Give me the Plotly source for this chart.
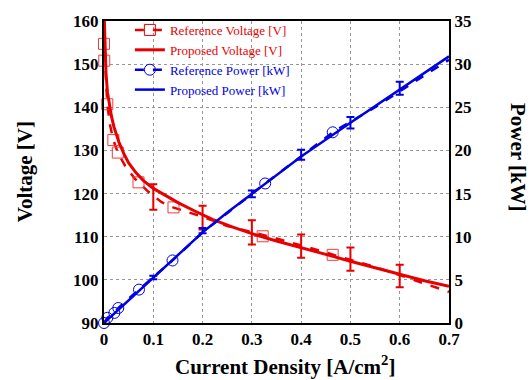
import plotly.graph_objects as go

RED = "rgb(232,0,0)"
BLUE = "rgb(0,0,225)"

# Proposed voltage (solid)
pv_x = [0.0004, 0.001, 0.002, 0.004, 0.007, 0.01, 0.015, 0.02, 0.03, 0.04, 0.05, 0.065, 0.08,
        0.1, 0.12, 0.15, 0.185, 0.22, 0.26, 0.3, 0.35, 0.4, 0.45, 0.5, 0.55, 0.6, 0.65, 0.7]
pv_y = [161, 158.5, 153.5, 148, 143.5, 141, 138, 135.5, 132, 129.3, 127.1, 124.8, 123.0,
        121.2, 119.8, 117.9, 115.9, 114.0, 112.3, 110.7, 109.0, 107.5, 105.9, 104.3, 102.8, 101.2, 99.8, 98.5]

# Reference voltage (dashed line)
rv_x = [0.0004, 0.002, 0.004, 0.007, 0.012, 0.019, 0.028, 0.043, 0.063, 0.09, 0.117, 0.14,
        0.2, 0.25, 0.33, 0.4, 0.465, 0.55, 0.6, 0.65, 0.7]
rv_y = [161, 152, 146, 140.5, 136, 132.4, 129.5, 126.4, 123.4, 120.4, 118, 116.8,
        114.6, 112.5, 110.2, 108, 105.9, 103, 101.1, 99.1, 97.2]

# Reference voltage markers (squares)
rvm_x = [0.0, 0.0005, 0.0067, 0.019, 0.028, 0.07, 0.141, 0.322, 0.464]
rvm_y = [154.7, 150.8, 140.7, 132.4, 129.5, 122.6, 116.8, 110.1, 105.8]

# Voltage error bars
ve_x = [0.1, 0.2, 0.3, 0.4, 0.5, 0.6]
ve_y = [119.2, 114.4, 111.0, 107.8, 104.8, 100.9]
ve_e = [2.95, 2.75, 2.8, 2.7, 2.7, 2.6]

# Proposed power (solid)
pp_x = [0, 0.05, 0.1, 0.157, 0.2, 0.25, 0.3, 0.4, 0.5, 0.6, 0.7]
pp_y = [0, 2.65, 5.3, 8.3, 10.5, 12.8, 15.0, 19.3, 23.2, 27.1, 30.9]

# Reference power (dashed)
rp_x = [0, 0.007, 0.021, 0.029, 0.071, 0.139, 0.2, 0.327, 0.4, 0.464, 0.55, 0.6, 0.65, 0.7]
rp_y = [0, 0.6, 1.17, 1.74, 3.87, 7.25, 10.5, 16.17, 19.3, 22.1, 25.0, 26.9, 28.7, 30.5]

# Reference power markers (circles)
rpm_x = [0, 0.0067, 0.021, 0.029, 0.071, 0.139, 0.327, 0.464]
rpm_y = [0, 0.6, 1.17, 1.74, 3.87, 7.25, 16.17, 22.1]

# Power error bars
pe_x = [0.1, 0.2, 0.3, 0.4, 0.5, 0.6]
pe_y = [5.27, 10.7, 14.96, 19.5, 23.2, 27.2]
pe_e = [0.2, 0.3, 0.4, 0.57, 0.66, 0.76]

x_ticks = [0, 0.1, 0.2, 0.3, 0.4, 0.5, 0.6, 0.7]
x_labels = ["0", "0.1", "0.2", "0.3", "0.4", "0.5", "0.6", "0.7"]

fig = go.Figure()

def lg(text, color):
    return f"<span style='color:{color}'>{text}</span>"

# Power traces (y2)
fig.add_trace(go.Scatter(x=rp_x, y=rp_y, mode="lines", line=dict(color=BLUE, width=2.5, dash="dash"),
                         yaxis="y2", showlegend=False))
fig.add_trace(go.Scatter(x=rpm_x, y=rpm_y, mode="markers", cliponaxis=False,
                         marker=dict(symbol="circle-open", size=11, color=BLUE, line=dict(width=1)),
                         yaxis="y2", showlegend=False))
fig.add_trace(go.Scatter(x=pp_x, y=pp_y, mode="lines", line=dict(color=BLUE, width=2.5),
                         yaxis="y2", showlegend=False))
fig.add_trace(go.Scatter(x=pe_x, y=pe_y, mode="markers", marker=dict(size=1, color=BLUE, opacity=0),
                         error_y=dict(type="data", array=pe_e, color=BLUE, thickness=2, width=4),
                         yaxis="y2", showlegend=False))

# Voltage traces
fig.add_trace(go.Scatter(x=rv_x, y=rv_y, mode="lines", line=dict(color=RED, width=2.5, dash="dash"),
                         showlegend=False))
fig.add_trace(go.Scatter(x=rvm_x, y=rvm_y, mode="markers", cliponaxis=False,
                         marker=dict(symbol="square-open", size=11, color="rgb(240,60,60)", line=dict(width=1)),
                         showlegend=False))
fig.add_trace(go.Scatter(x=pv_x, y=pv_y, mode="lines", line=dict(color=RED, width=3),
                         showlegend=False))
fig.add_trace(go.Scatter(x=ve_x, y=ve_y, mode="markers", marker=dict(size=1, color=RED, opacity=0),
                         error_y=dict(type="data", array=ve_e, color=RED, thickness=2, width=4),
                         showlegend=False))

# Legend entries
fig.add_trace(go.Scatter(x=[None], y=[None], mode="lines+markers", name=lg("Reference Voltage [V]", RED),
                         line=dict(color=RED, width=2.5, dash="dash"),
                         marker=dict(symbol="square-open", size=11, color=RED, line=dict(width=1))))
fig.add_trace(go.Scatter(x=[None], y=[None], mode="lines", name=lg("Proposed Voltage [V]", RED),
                         line=dict(color=RED, width=3)))
fig.add_trace(go.Scatter(x=[None], y=[None], mode="lines+markers", name=lg("Reference Power [kW]", BLUE),
                         line=dict(color=BLUE, width=2.5, dash="dash"),
                         marker=dict(symbol="circle-open", size=11, color=BLUE, line=dict(width=1))))
fig.add_trace(go.Scatter(x=[None], y=[None], mode="lines", name=lg("Proposed Power [kW]", BLUE),
                         line=dict(color=BLUE, width=2.5)))

tickfont = dict(family="Liberation Serif", size=17, color="black", weight="bold")
grid = dict(showgrid=True, gridcolor="rgb(150,150,150)", gridwidth=1, griddash="dot")

fig.update_layout(
    width=532, height=380,
    margin=dict(l=104, r=83, t=16, b=57),
    paper_bgcolor="white", plot_bgcolor="white",
    font=dict(family="Liberation Serif", color="black"),
    xaxis=dict(range=[0, 0.7], tickvals=x_ticks, ticktext=x_labels, tickfont=tickfont,
               showline=True, linecolor="black", linewidth=2, mirror=True, ticks="",
               zeroline=False, **grid),
    yaxis=dict(range=[90, 160], dtick=10, tickfont=tickfont, showline=True, linecolor="black",
               linewidth=2, mirror=True, ticks="", zeroline=False, **grid),
    yaxis2=dict(range=[0, 35], dtick=5, overlaying="y", side="right", tickfont=tickfont,
                showline=True, linecolor="black", linewidth=2, ticks="", showgrid=False, zeroline=False),
    legend=dict(x=0.075, y=1.02, xanchor="left", yanchor="top", bgcolor="rgba(0,0,0,0)",
                font=dict(family="Liberation Serif", size=13), tracegroupgap=0),
    showlegend=True,
)

fig.add_annotation(text="<b>Voltage [V]</b>", xref="paper", yref="paper", x=-0.228, y=0.5,
                   xanchor="center", yanchor="middle", textangle=-90, showarrow=False,
                   font=dict(family="Liberation Serif", size=21, color="black"))
fig.add_annotation(text="<b>Power [kW]</b>", xref="paper", yref="paper", x=1.2, y=0.55,
                   xanchor="center", yanchor="middle", textangle=90, showarrow=False,
                   font=dict(family="Liberation Serif", size=21, color="black"))
fig.add_annotation(text="<b>Current Density [A/cm<sup>2</sup>]</b>", xref="paper", yref="paper",
                   x=0.526, y=-0.14, xanchor="center", yanchor="middle", showarrow=False,
                   font=dict(family="Liberation Serif", size=21, color="black"))

fig.write_html("out.html")
